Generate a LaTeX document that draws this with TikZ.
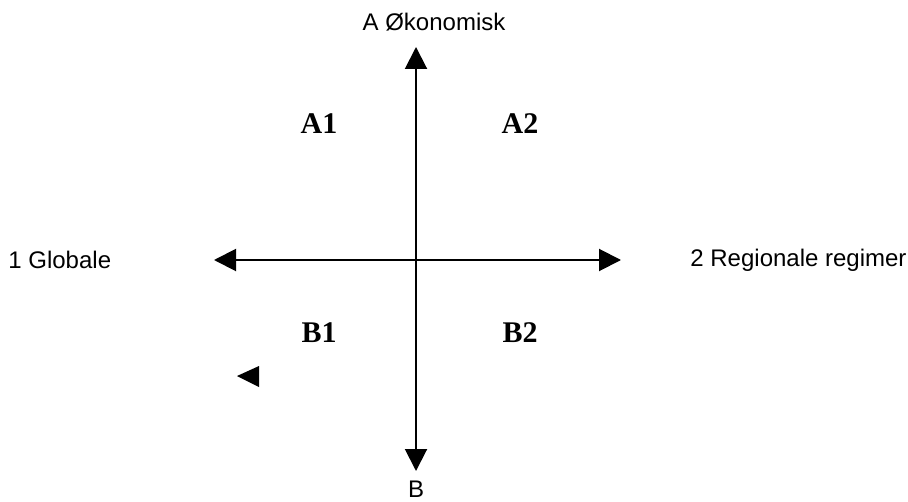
\documentclass[tikz,border=0pt]{standalone}
\usepackage{fontspec}
\setmainfont{Liberation Serif}
\newfontfamily\labelfont{Liberation Sans}
\usetikzlibrary{arrows.meta}

\begin{document}
\begin{tikzpicture}[
		x=0.5pt, y=-0.5pt,
		% --- Styles ---
		axis/.style={
			draw, line width=1pt, {Triangle[length=11pt, width=11pt]}-{Triangle[length=11pt, width=11pt]}
		},
		endlabel/.style={
			font=\labelfont\fontsize{12pt}{14pt}\selectfont, inner sep=0pt
		},
		quadlabel/.style={
			font=\bfseries\fontsize{15pt}{17pt}\selectfont, inner sep=0pt
		}
		]
		\useasboundingbox (0,0) rectangle (908,502);
		
		% --- Axis ends ---
		\coordinate (top) at (416,47);
		\coordinate (bottom) at (416,471);
		\coordinate (left) at (214,260);
		\coordinate (right) at (621,260);
		
		% --- Axes ---
		\draw [axis] (bottom) -- (top);
		\draw [axis] (left) -- (right);
		
		% --- End labels ---
		\node [endlabel] (econ) at (434,22) {A Økonomisk};
		\node [endlabel] (bend) at (416,489) {B};
		\node [endlabel, anchor=west] (glob) at (8,260) {1 Globale};
		\node [endlabel, anchor=west] (reg) at (690,260) {2 Regionale regimer};
		
		% --- Quadrants ---
		\node [quadlabel] (a1) at (319,124) {A1};
		\node [quadlabel] (a2) at (520,124) {A2};
		\node [quadlabel] (b1) at (319,333) {B1};
		\node [quadlabel] (b2) at (520,333) {B2};
		
		% --- Loose arrow head ---
		\fill (237,376) -- (259,366) -- (259,387) -- cycle;
		
\end{tikzpicture}
\end{document}
